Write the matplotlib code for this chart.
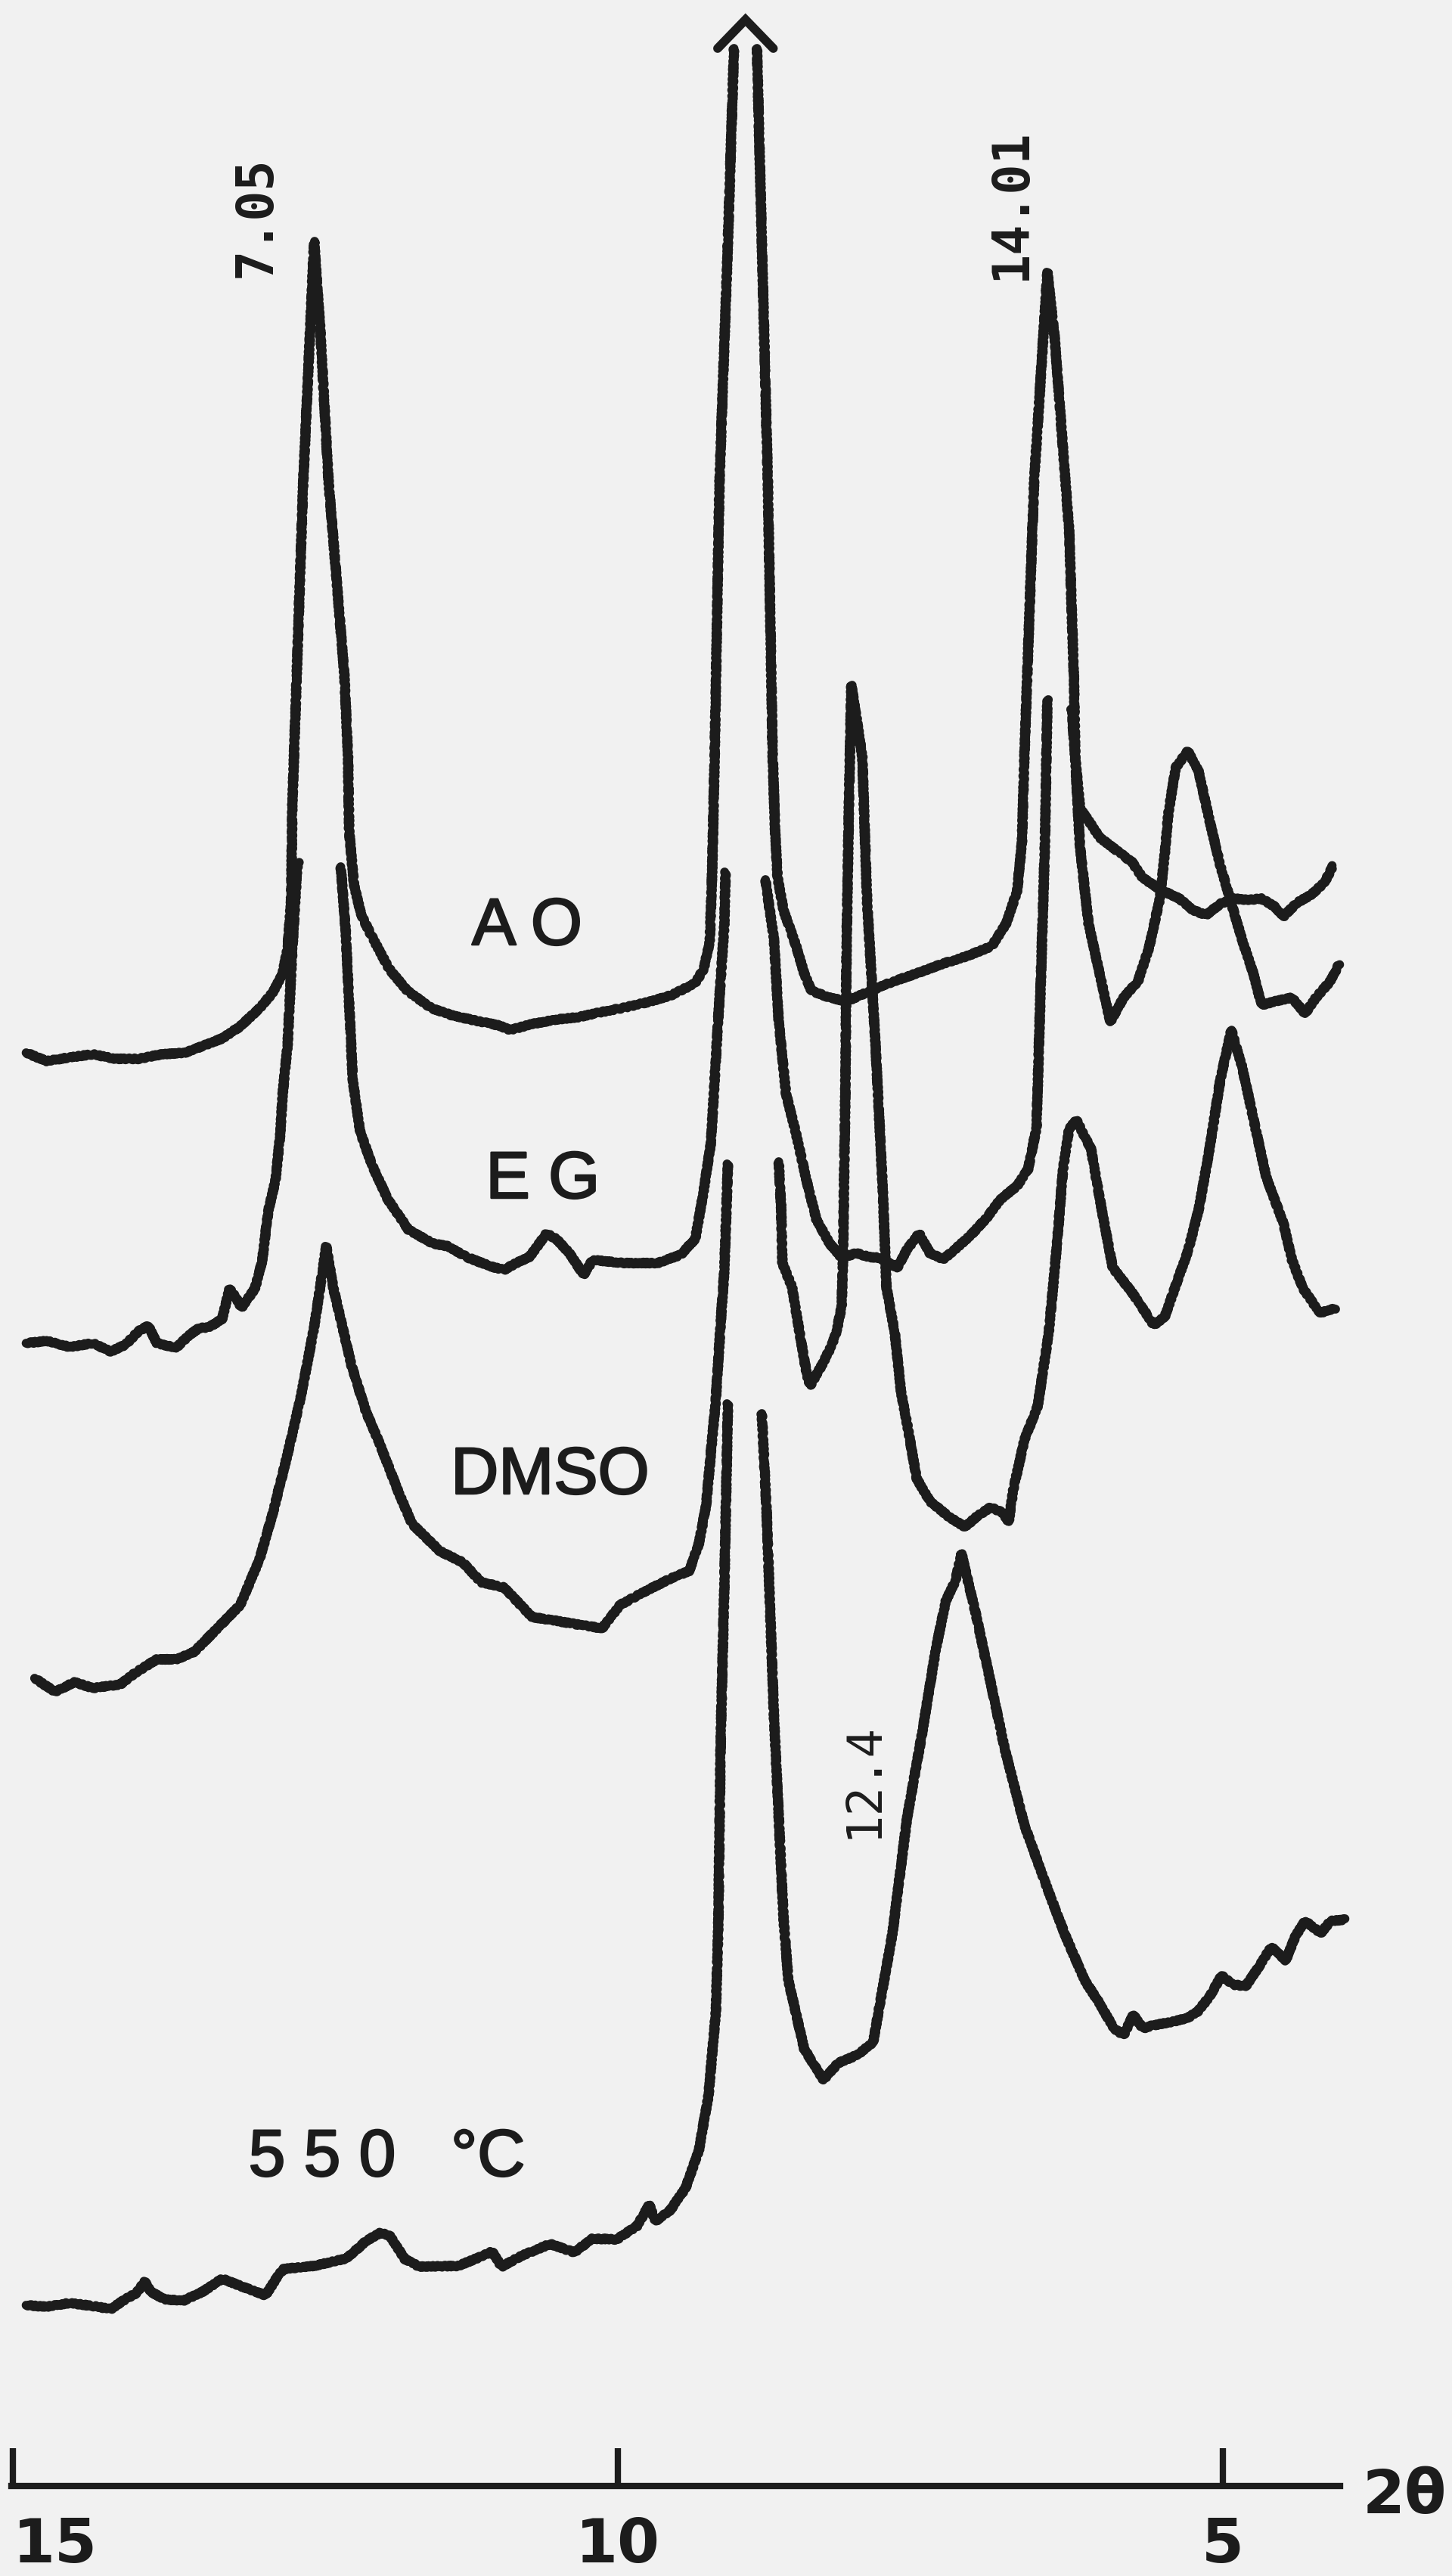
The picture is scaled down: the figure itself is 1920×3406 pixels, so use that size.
import numpy as np
import matplotlib.pyplot as plt
import matplotlib.patheffects as pe

nan = np.nan

# 2-theta (deg, Cu K-alpha) against recorder deflection (stacked, arbitrary units).
# nan splits a trace where the pen line stops short under the trace above it.
ao_2theta = [14.89, 14.72, 14.53, 14.34, 14.15, 13.96, 13.77, 13.58, 13.43, 13.27,
             13.12, 12.96, 12.85, 12.77, 12.73, 12.70, 12.69, 12.60, 12.51, 12.46,
             12.39, 12.26, 12.23, 12.22, 12.18, 12.12, 12.04, 11.89, 11.74, 11.54,
             11.36, 11.16, 10.98, 10.89, 10.71, 10.51, 10.33, 10.13, 9.94, 9.75,
             9.56, 9.36, 9.29, 9.24, 9.22, 9.20, 9.16, 9.09, 9.04, nan,
             8.85, 8.81, 8.76, 8.72, 8.70, 8.68, 8.63, 8.53, 8.46, 8.40,
             8.25, 8.11, 7.94, 7.73, 7.53, 7.31, 7.11, 6.91, 6.79, 6.70,
             6.66, 6.64, 6.56, 6.45, 6.39, 6.27, 6.23, 6.22, 6.18, 6.11,
             6.02, 5.89, 5.75, 5.66, 5.52, 5.36, 5.25, 5.14, 5.02, 4.91,
             4.79, 4.68, 4.57, 4.50, 4.39, 4.27, 4.16, 4.09]
ao_counts = [189.5, 188.4, 188.9, 189.3, 188.7, 188.7, 189.3, 189.5, 190.4, 191.4,
             193.0, 195.4, 197.5, 200.0, 203.2, 209.6, 222.3, 264.9, 296.8, 285.3,
             264.9, 239.4, 228.7, 218.7, 211.7, 207.7, 205.1, 200.6, 197.7, 195.4,
             194.4, 193.7, 193.1, 192.5, 193.3, 193.9, 194.2, 194.9, 195.5, 196.2,
             197.1, 198.7, 200.6, 204.2, 213.7, 228.7, 264.9, 296.8, 322.3, nan,
             322.3, 296.8, 264.9, 228.7, 218.7, 212.7, 208.3, 203.8, 200.0, 197.7,
             196.8, 196.3, 197.5, 198.9, 200.0, 201.3, 202.3, 203.6, 206.6, 210.9,
             217.4, 228.7, 264.9, 292.7, 284.1, 258.5, 238.7, 228.7, 221.8, 220.2,
             218.0, 216.4, 214.7, 212.6, 211.1, 209.9, 208.4, 207.7, 209.2, 209.9,
             209.7, 209.9, 208.8, 207.5, 209.3, 210.4, 212.0, 214.2]

eg_2theta = [14.89, 14.72, 14.53, 14.34, 14.19, 14.07, 13.96, 13.88, 13.81, 13.65,
             13.54, 13.46, 13.38, 13.27, 13.21, 13.16, 13.11, 13.00, 12.94, 12.89,
             12.83, 12.79, 12.77, 12.73, 12.69, 12.65, 12.64, nan,
             12.29, 12.25, 12.21, 12.19, 12.13, 12.03, 11.90, 11.73, 11.53, 11.40,
             11.25, 11.04, 10.94, 10.84, 10.73, 10.59, 10.51, 10.40, 10.28, 10.21,
             9.94, 9.67, 9.48, 9.36, 9.29, 9.23, 9.19, 9.16, 9.12, 9.11, nan,
             8.78, 8.71, 8.67, 8.61, 8.53, 8.44, 8.36, 8.25, 8.15, 8.03,
             7.92, 7.84, 7.69, 7.61, 7.51, 7.42, 7.31, 7.20, 7.07, 6.95,
             6.84, 6.70, 6.61, 6.54, 6.51, 6.47, 6.45, nan,
             6.25, 6.22, 6.20, 6.18, 6.11, 6.02, 5.93, 5.82, 5.70, 5.61,
             5.52, 5.48, 5.45, 5.39, 5.29, 5.20, 5.11, 5.02, 4.93, 4.84,
             4.75, 4.68, 4.57, 4.43, 4.32, 4.23, 4.11, 4.04]
eg_counts = [151.1, 151.4, 150.6, 151.1, 150.0, 150.9, 152.7, 153.4, 151.1, 150.5,
             152.2, 153.1, 153.2, 154.3, 158.3, 157.2, 155.8, 158.3, 161.9, 168.5,
             172.6, 178.7, 184.1, 190.4, 203.2, 213.9, 214.7, nan,
             214.1, 205.8, 192.5, 185.8, 179.1, 174.6, 170.1, 166.1, 164.3, 163.9,
             162.5, 161.2, 160.8, 161.7, 162.5, 165.6, 164.9, 163.0, 160.1, 162.1,
             161.7, 161.7, 162.8, 164.9, 171.3, 177.7, 188.7, 196.8, 206.4, 213.4, nan,
             212.4, 204.5, 193.6, 184.1, 179.0, 172.6, 167.5, 164.3, 162.4, 163.0,
             162.5, 162.4, 161.1, 163.5, 165.6, 163.0, 162.2, 163.7, 165.6, 167.7,
             170.1, 171.9, 174.1, 179.5, 195.8, 217.4, 236.2, nan,
             235.0, 228.7, 222.3, 216.7, 206.6, 200.1, 193.6, 196.8, 199.0, 203.4,
             209.9, 215.8, 221.2, 227.2, 229.4, 226.7, 220.2, 214.2, 209.3, 204.4,
             200.1, 195.8, 196.3, 196.8, 194.7, 196.8, 199.0, 201.2]

dmso_2theta = [14.82, 14.65, 14.49, 14.34, 14.11, 13.99, 13.81, 13.65, 13.50, 13.31,
               13.12, 12.96, 12.85, 12.73, 12.62, 12.51, 12.41, 12.35, 12.20, 12.08,
               11.97, 11.81, 11.70, 11.47, 11.28, 11.13, 10.94, 10.71, 10.51, 10.33,
               10.13, 9.98, 9.75, 9.56, 9.41, 9.33, 9.27, 9.23, 9.19, 9.15,
               9.12, 9.09, nan,
               8.67, 8.65, 8.64, 8.56, 8.50, 8.44, 8.41, 8.31, 8.23, 8.19,
               8.15, 8.14, 8.12, 8.11, 8.09, 8.07, 8.02, 7.98, 7.94, 7.87,
               7.81, 7.78, 7.71, 7.66, 7.60, 7.53, 7.42, 7.26, 7.13, 7.04,
               6.92, 6.82, 6.77, 6.73, 6.64, 6.53, 6.44, 6.39, 6.32, 6.27,
               6.21, 6.09, 6.00, 5.91, 5.75, 5.57, 5.48, 5.41, 5.29, 5.20,
               5.11, 5.02, 4.93, 4.84, 4.73, 4.64, 4.50, 4.43, 4.34, 4.20,
               4.07]
dmso_counts = [106.8, 105.0, 106.3, 105.5, 106.0, 107.5, 109.3, 109.3, 110.3, 113.4,
               116.5, 122.6, 128.7, 136.4, 144.0, 153.2, 163.9, 158.3, 148.1, 142.0,
               137.9, 131.3, 127.2, 123.6, 122.1, 119.5, 118.8, 114.9, 114.4, 113.9,
               113.4, 116.5, 118.5, 120.0, 121.0, 124.6, 129.7, 136.7, 143.7, 153.7,
               160.7, 174.8, nan,
               175.1, 168.7, 161.7, 158.5, 152.7, 147.1, 145.5, 148.3, 150.9, 152.8,
               156.0, 161.7, 184.1, 203.2, 222.3, 238.1, 233.0, 228.7, 209.6, 190.4,
               171.3, 158.5, 152.3, 144.7, 139.6, 133.2, 130.2, 128.1, 126.8, 128.1,
               129.4, 128.7, 127.5, 131.9, 138.3, 142.8, 152.3, 160.7, 174.1, 179.5,
               180.6, 176.8, 168.7, 161.1, 157.8, 153.5, 154.6, 157.8, 163.2, 168.7,
               176.8, 186.0, 192.5, 187.6, 179.5, 173.0, 167.0, 162.2, 158.4, 155.1,
               155.7]

heated_2theta = [14.89, 14.72, 14.53, 14.34, 14.19, 14.07, 13.98, 13.91, 13.86, 13.75,
                 13.59, 13.43, 13.27, 13.11, 12.91, 12.81, 12.76, 12.51, 12.24, 12.08,
                 11.96, 11.88, 11.76, 11.64, 11.32, 11.12, 11.04, 10.96, 10.80, 10.56,
                 10.36, 10.21, 10.01, 9.84, 9.74, 9.69, 9.57, 9.44, 9.33, 9.25,
                 9.19, 9.17, 9.15, 9.12, 9.09, nan,
                 8.81, 8.77, 8.71, 8.63, 8.59, 8.46, 8.30, 8.18, 8.02, 7.89,
                 7.81, 7.73, 7.61, 7.49, 7.37, 7.29, 7.21, 7.16, 7.04, 6.92,
                 6.80, 6.64, 6.48, 6.31, 6.14, 6.03, 5.90, 5.82, 5.74, 5.66,
                 5.58, 5.41, 5.29, 5.21, 5.11, 5.01, 4.92, 4.81, 4.70, 4.60,
                 4.48, 4.40, 4.32, 4.19, 4.11, 3.99]
heated_counts = [23.9, 23.7, 24.2, 23.8, 23.4, 24.7, 25.5, 27.0, 25.7, 24.7,
                 24.5, 25.7, 27.4, 26.4, 25.2, 27.8, 28.7, 29.1, 30.1, 32.4,
                 33.5, 33.0, 30.0, 29.0, 29.1, 30.4, 31.0, 29.0, 30.4, 32.0,
                 30.9, 32.7, 32.6, 34.4, 37.2, 35.0, 36.4, 39.4, 44.4, 51.7,
                 62.7, 73.7, 98.7, 118.7, 143.1, nan,
                 141.8, 128.7, 101.8, 74.9, 66.8, 57.8, 53.7, 55.9, 57.0, 58.7,
                 65.9, 73.1, 88.3, 99.1, 110.8, 117.0, 119.7, 123.3, 115.2, 106.3,
                 97.3, 87.4, 80.3, 73.1, 66.8, 64.1, 60.5, 59.6, 62.3, 60.5,
                 60.9, 61.4, 61.9, 62.7, 64.7, 67.5, 66.3, 66.1, 68.7, 71.3,
                 69.5, 72.7, 74.7, 73.1, 74.7, 74.9]

sample_names = ["A O", "E G", "DMSO", "5 5 0   °C"]
d_spacings = ["7.05", "14.01", "12.4"]   # Angstrom
d_peak_2theta = [12.51, 6.45, 7.16]
tick_2theta = [15, 10, 5]

INK = "#1c1c1c"
PAPER = "#f1f1f1"
LW = 8.5

fig = plt.figure(figsize=(19.2, 34.06), dpi=100, facecolor=PAPER)
ax = fig.add_axes([0, 0, 1, 1], facecolor=PAPER)
ax.set_xlim(15.106, 3.106)
ax.set_ylim(-11.9, 328.7)

traces = [(ao_2theta, ao_counts), (eg_2theta, eg_counts),
          (dmso_2theta, dmso_counts), (heated_2theta, heated_counts)]
for tt, cc in traces:
    line, = ax.plot(tt, cc, color=INK, lw=LW, solid_joinstyle="round",
                    solid_capstyle="round")
    # recorder pen chatter along the trace
    line.set_sketch_params(scale=1.3, length=7, randomness=3)

# off-scale illite reflection in the AO trace gets an open arrow head
ao_tt = np.array(ao_2theta)
ao_c = np.array(ao_counts)
i = int(np.flatnonzero(np.isnan(ao_c))[0])
apex = (ao_tt[i - 1] + ao_tt[i + 1]) / 2
top = ao_c[i - 1]
ax.plot([apex + 0.23, apex, apex - 0.23], [top, top + 3.8, top],
        color=INK, lw=LW, solid_joinstyle="miter", solid_capstyle="round")

# sample names
name_font = dict(family=["Liberation Sans", "DejaVu Sans"], size=63, color=INK,
                 ha="center", va="baseline",
                 path_effects=[pe.withStroke(linewidth=1.8, foreground=INK)])
ax.text(10.75, 203.8, sample_names[0], **name_font)
ax.text(10.62, 170.3, sample_names[1], **name_font)
ax.text(10.56, 131.2, sample_names[2], **name_font)
ax.text(11.91, 41.0, sample_names[3], **name_font)

# d-spacing labels next to their reflections
mono = ["DejaVu Sans Mono", "DejaVu Sans"]
for (tt, cc), label, peak, dx, dy, va, weight, size in [
        ((ao_tt, ao_c), d_spacings[0], d_peak_2theta[0], 0.48, -4.8, "bottom", "bold", 48),
        ((ao_tt, ao_c), d_spacings[1], d_peak_2theta[1], 0.30, -1.0, "bottom", "bold", 48),
        ((np.array(heated_2theta), np.array(heated_counts)), d_spacings[2],
         d_peak_2theta[2], 0.81, -30.0, "center", "normal", 46)]:
    k = int(np.nanargmin(np.abs(tt - peak)))
    ax.text(tt[k] + dx, cc[k] + dy, label, rotation=90, ha="center", va=va,
            family=mono, weight=weight, size=size, color=INK)

# 2-theta scale
for s in ax.spines.values():
    s.set_visible(False)
bottom = ax.spines["bottom"]
bottom.set_visible(True)
bottom.set_position(("data", 0))
bottom.set_bounds(4.03, 15.01)
bottom.set_linewidth(6)
bottom.set_color(INK)
ax.set_yticks([])
ax.set_xticks(tick_2theta, labels=[str(t) for t in tick_2theta])
ax.tick_params(axis="x", direction="in", length=36, width=6, color=INK,
               pad=29, labelsize=58, labelcolor=INK)
for lab in ax.get_xticklabels():
    lab.set_fontfamily(["DejaVu Sans"])
    lab.set_fontweight("bold")
ax.get_xticklabels()[0].set_horizontalalignment("left")

ax.annotate("2θ", xy=(4.03, 0), xytext=(21, -26), textcoords="offset points",
            ha="left", va="baseline", family=["DejaVu Sans"], weight="bold",
            size=58, color=INK, annotation_clip=False)

fig.savefig("out.png", dpi=100, facecolor=PAPER)
